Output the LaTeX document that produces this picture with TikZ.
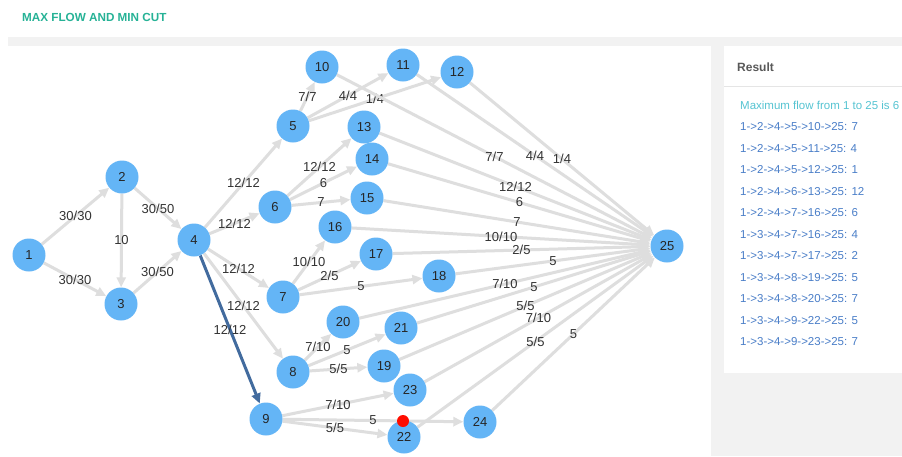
\documentclass[tikz,border=0pt]{standalone}
\usepackage{fontspec}
\setmainfont{Liberation Sans}
\usetikzlibrary{arrows.meta}
\definecolor{nodeblue}{RGB}{100,181,246}
\definecolor{edgegray}{RGB}{222,222,222}
\definecolor{cutblue}{RGB}{66,107,158}
\definecolor{titlegreen}{RGB}{38,178,150}
\definecolor{pathblue}{RGB}{74,126,200}
\definecolor{maxcyan}{RGB}{86,196,210}
\definecolor{panelgray}{RGB}{242,242,242}
\pgfdeclarelayer{back}
\pgfdeclarelayer{edges}
\pgfsetlayers{back,edges,main}
\tikzset{
    >={Triangle[length=10pt,width=9pt]}, % filled triangle heads
    vertex/.style={circle, fill=nodeblue, minimum size=33pt, inner sep=0pt, text=black!85, font=\fontsize{13}{15}\selectfont}, % every graph node
    flow/.style={->, draw=edgegray, line width=3pt}, % normal edge
    cutflow/.style={->, draw=cutblue, line width=3pt}, % highlighted edge
    flowlabel/.style={inner sep=0pt, text=black!80, font=\fontsize{13}{15}\selectfont}, % flow/capacity text
    pathline/.style={anchor=west, inner sep=0pt, text=pathblue, font=\fontsize{11.5}{13}\selectfont},
}

\begin{document}
\begin{tikzpicture}[x=1pt,y=-1pt]
    \useasboundingbox (0,0) rectangle (902,456);
    % page panels
    \begin{pgfonlayer}{back}
        \fill[white] (0,0) rectangle (902,456);
        \fill[panelgray] (8,37) rectangle (902,46);
        \fill[panelgray] (711,46) rectangle (724,456);
        \fill[panelgray] (724,373) rectangle (902,456);
        \draw[black!10, line width=1pt] (724,86) -- (902,86);
    \end{pgfonlayer}
    \node[anchor=west, inner sep=0pt, text=titlegreen, font=\bfseries\fontsize{11.7}{13}\selectfont] (title) at (22,17) {MAX FLOW AND MIN CUT};
    \node[anchor=west, inner sep=0pt, text=black!65, font=\bfseries\fontsize{12}{14}\selectfont] (result) at (737,67) {Result};
    \node[pathline, text=maxcyan] (maxflow) at (740,105) {Maximum flow from 1 to 25 is 6};
    \foreach \p [count=\i] in {1->2->4->5->10->25: 7, 1->2->4->5->11->25: 4, 1->2->4->5->12->25: 1,
        1->2->4->6->13->25: 12, 1->2->4->7->16->25: 6, 1->3->4->7->16->25: 4, 1->3->4->7->17->25: 2,
        1->3->4->8->19->25: 5, 1->3->4->8->20->25: 7, 1->3->4->9->22->25: 5, 1->3->4->9->23->25: 7}
        \node[pathline] (path\i) at (740,{127+(\i-1)*21.5}) {\p};

    % graph nodes
    \foreach \n/\x/\y in {1/29/255, 2/122/177, 3/121/304, 4/194/240, 5/293/126, 6/275/207,
        7/283/297, 8/293/372, 9/266/419, 10/322/67, 11/403/65, 12/457/72, 13/364/127,
        14/372/159, 15/367/198, 16/335/227, 17/376/254, 18/439/276, 19/384/366,
        20/343/322, 21/401/328, 22/404/437, 23/410/390, 24/480/422, 25/667/246}
        \node[vertex] (n\n) at (\x,\y) {\n};
    \node[circle, fill=red!90!orange, minimum size=12pt, inner sep=0pt] (cutpoint) at (403,421) {};

    % edges
    \begin{pgfonlayer}{edges}
        \foreach \a/\b/\l in {1/2/{30/30}, 1/3/{30/30}, 2/3/10, 2/4/{30/50}, 3/4/{30/50},
            4/5/{12/12}, 4/6/{12/12}, 4/7/{12/12}, 4/8/{12/12}, 5/10/{7/7}, 5/11/{4/4},
            5/12/{1/4}, 6/13/{12/12}, 6/14/6, 6/15/7, 7/16/{10/10}, 7/17/{2/5}, 7/18/5,
            8/20/{7/10}, 8/21/5, 8/19/{5/5}, 9/23/{7/10}, 9/24/5, 9/22/{5/5},
            10/25/{7/7}, 11/25/{4/4}, 12/25/{1/4}, 13/25/{12/12}, 14/25/6, 15/25/7,
            16/25/{10/10}, 17/25/{2/5}, 18/25/5, 20/25/{7/10}, 21/25/5, 19/25/{5/5},
            23/25/{7/10}, 22/25/{5/5}, 24/25/5}
            \draw[flow] (n\a) -- node[flowlabel] {\l} (n\b);
        \draw[cutflow] (n4) -- node[flowlabel] {12/12} (n9);
    \end{pgfonlayer}
\end{tikzpicture}
\end{document}
